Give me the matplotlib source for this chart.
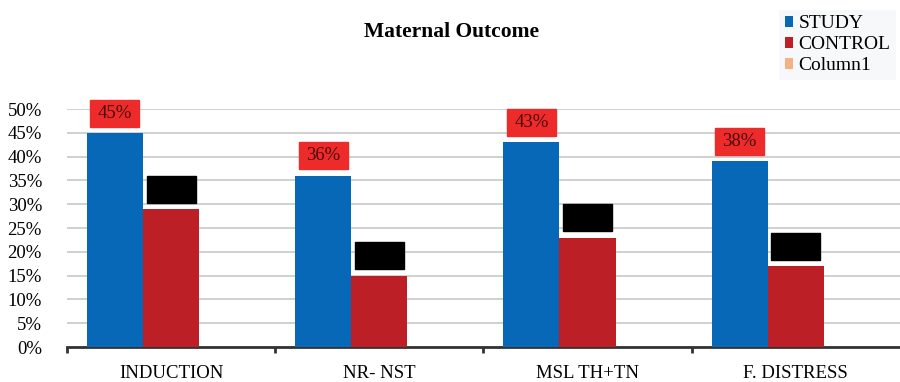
import matplotlib.pyplot as plt
from matplotlib.patches import Rectangle
import numpy as np

# data
categories = ['INDUCTION', 'NR- NST', 'MSL TH+TN', 'F. DISTRESS']
study = [45, 36, 43, 39]
control = [29, 15, 23, 17]
column1 = [0, 0, 0, 0]
study_labels = ['45%', '36%', '43%', '38%']

plt.rcParams['font.family'] = ['Liberation Serif', 'DejaVu Serif']

fig = plt.figure(figsize=(9, 3.82), dpi=100)
ax = fig.add_axes([0.0744, 0.0916, 0.9256, 0.623])

x = np.arange(len(categories))
w = 0.27
ax.bar(x - w, study, w, color='#0868B8', label='STUDY', zorder=3)
ax.bar(x, control, w, color='#BC1F26', label='CONTROL', zorder=3)
ax.bar(x + w, column1, w, color='#F4B183', label='Column1', zorder=3)

# label boxes above the bars (control labels are blacked out)
bw, bh, gap = 0.235, 5.7, 1.3
for i in range(len(categories)):
    xs = x[i] - w - bw / 2
    ax.add_patch(Rectangle((xs, study[i] + gap), bw, bh, color='#EE2B2B',
                           zorder=4, clip_on=False))
    ax.text(x[i] - w, study[i] + gap + bh / 2, study_labels[i], ha='center',
            va='center', fontsize=13.5, color='#4a0c0c', zorder=5)
    ax.add_patch(Rectangle((x[i] - bw / 2, control[i] + gap), bw, bh,
                           color='black', zorder=4, clip_on=False))

ax.set_xlim(-0.5, 3.5)
ax.set_ylim(0, 50)
ax.set_yticks(range(0, 51, 5))
ax.set_yticklabels([f'{v}%' for v in range(0, 51, 5)], fontsize=13.5)
ax.grid(axis='y', color='#c8c8c8', linewidth=1.2, zorder=0)

# boundary ticks on the category axis, labels at the centres
ax.set_xticks(np.arange(-0.5, 3.0, 1.0))
ax.set_xticklabels([])
ax.set_xticks(x, minor=True)
ax.set_xticklabels(categories, minor=True, fontsize=13.5)
ax.tick_params(axis='x', which='major', length=4, width=2, color='#333333')
ax.tick_params(axis='x', which='minor', length=0, pad=13)
ax.tick_params(axis='y', length=0, pad=18)

for s in ['top', 'right', 'left']:
    ax.spines[s].set_visible(False)
ax.spines['bottom'].set_color('#333333')
ax.spines['bottom'].set_linewidth(2)

fig.text(0.502, 0.915, 'Maternal Outcome', ha='center', va='center',
         fontsize=15.5, fontweight='bold')

leg = fig.legend(loc='upper right', bbox_to_anchor=(1.0, 0.985), fontsize=14,
                 handlelength=0.45, handleheight=0.45, handletextpad=0.25,
                 labelspacing=0.2, borderpad=0.3, borderaxespad=0.2,
                 fancybox=False)
leg.get_frame().set_facecolor('#f6f7f8')
leg.get_frame().set_edgecolor('none')

plt.savefig('out.png', dpi=100)
